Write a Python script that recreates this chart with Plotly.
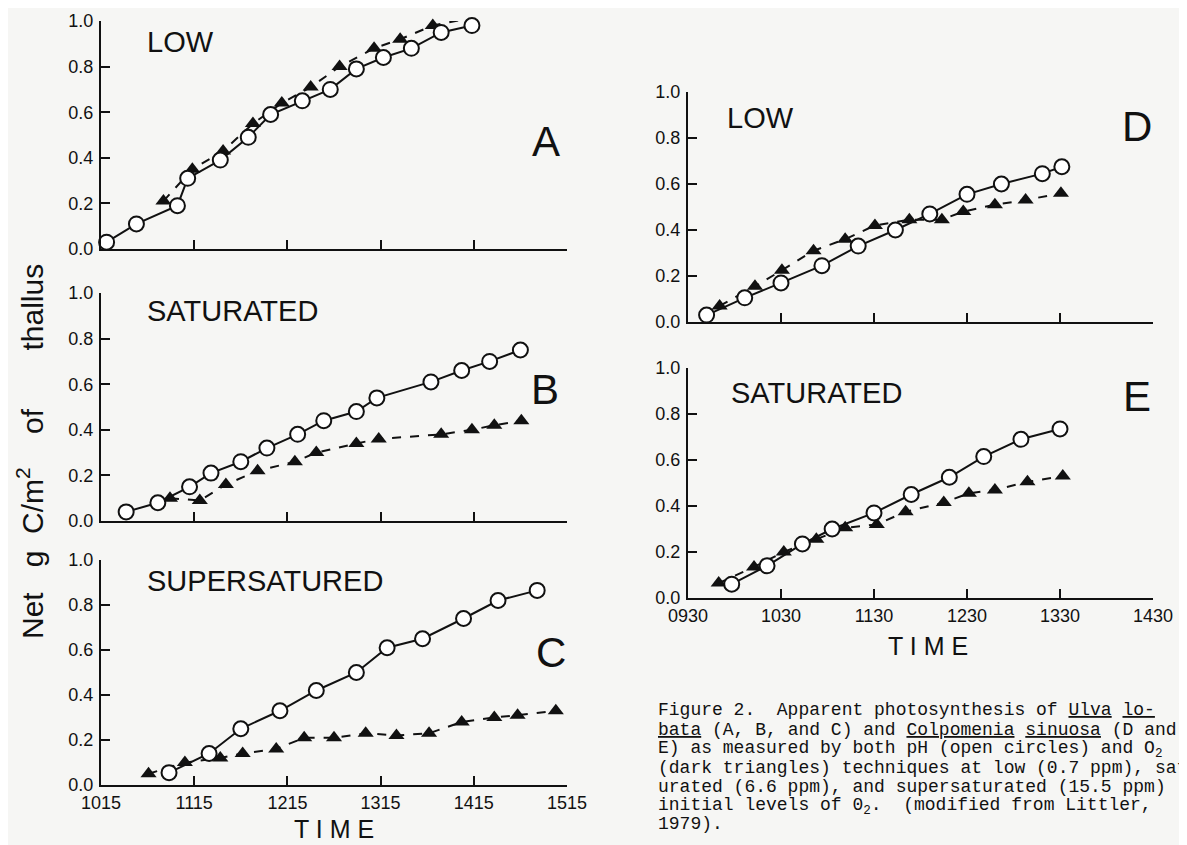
import plotly.graph_objects as go

W, H = 1187, 845
PAGE_OFFSET = 8  # the browser's default body margin shifts the figure by 8 px

# ---------------- data (time in decimal hours, value in g C/m2) ----------------
# Panel A  (Ulva lobata, LOW O2)
a_circ_t = [10.31, 10.63, 11.07, 11.18, 11.53, 11.83, 12.07, 12.41, 12.71, 12.99, 13.28, 13.58, 13.90, 14.23]
a_circ_v = [0.03, 0.11, 0.19, 0.31, 0.39, 0.49, 0.59, 0.65, 0.70, 0.79, 0.84, 0.88, 0.95, 0.98]
a_tri_t = [10.92, 11.23, 11.56, 11.88, 12.19, 12.50, 12.81, 13.18, 13.46, 13.81, 14.18]
a_tri_v = [0.21, 0.35, 0.43, 0.55, 0.64, 0.71, 0.80, 0.88, 0.92, 0.98, 1.01]

# Panel B  (Ulva lobata, SATURATED)
b_circ_t = [10.52, 10.86, 11.20, 11.43, 11.75, 12.03, 12.36, 12.64, 12.99, 13.21, 13.79, 14.12, 14.42, 14.75]
b_circ_v = [0.04, 0.08, 0.15, 0.21, 0.26, 0.32, 0.38, 0.44, 0.48, 0.54, 0.61, 0.66, 0.70, 0.75]
b_tri_t = [10.99, 11.31, 11.59, 11.93, 12.33, 12.56, 12.99, 13.23, 13.90, 14.23, 14.47, 14.76]
b_tri_v = [0.10, 0.09, 0.16, 0.22, 0.26, 0.30, 0.34, 0.36, 0.38, 0.40, 0.42, 0.44]

# Panel C  (Ulva lobata, SUPERSATURED)
c_circ_t = [10.98, 11.41, 11.75, 12.17, 12.56, 12.99, 13.32, 13.70, 14.14, 14.51, 14.93]
c_circ_v = [0.055, 0.14, 0.25, 0.33, 0.42, 0.50, 0.61, 0.65, 0.74, 0.82, 0.865]
c_tri_t = [10.76, 11.15, 11.53, 11.77, 12.13, 12.43, 12.75, 13.09, 13.42, 13.77, 14.12, 14.47, 14.72, 15.13]
c_tri_v = [0.05, 0.10, 0.12, 0.14, 0.16, 0.21, 0.21, 0.23, 0.22, 0.23, 0.28, 0.30, 0.31, 0.33]

# Panel D  (Colpomenia sinuosa, LOW)
d_circ_t = [9.70, 10.11, 10.50, 10.94, 11.33, 11.73, 12.10, 12.50, 12.87, 13.31, 13.52]
d_circ_v = [0.03, 0.105, 0.17, 0.245, 0.33, 0.40, 0.47, 0.555, 0.60, 0.645, 0.675]
d_tri_t = [9.84, 10.22, 10.51, 10.85, 11.19, 11.51, 11.88, 12.23, 12.46, 12.80, 13.13, 13.51]
d_tri_v = [0.07, 0.155, 0.225, 0.31, 0.36, 0.42, 0.445, 0.445, 0.48, 0.51, 0.53, 0.56]

# Panel E  (Colpomenia sinuosa, SATURATED)
e_circ_t = [9.97, 10.35, 10.73, 11.05, 11.50, 11.90, 12.31, 12.68, 13.08, 13.50]
e_circ_v = [0.06, 0.14, 0.235, 0.30, 0.37, 0.45, 0.525, 0.615, 0.69, 0.735]
e_tri_t = [9.83, 10.21, 10.53, 10.88, 11.19, 11.53, 11.84, 12.25, 12.52, 12.80, 13.15, 13.53]
e_tri_v = [0.065, 0.135, 0.20, 0.255, 0.305, 0.32, 0.375, 0.415, 0.455, 0.47, 0.505, 0.53]

left_tick_vals = [10.25, 11.25, 12.25, 13.25, 14.25, 15.25]
left_tick_text = ["1015", "1115", "1215", "1315", "1415", "1515"]
right_tick_vals = [9.5, 10.5, 11.5, 12.5, 13.5, 14.5]
right_tick_text = ["0930", "1030", "1130", "1230", "1330", "1430"]
y_tick_vals = [0.0, 0.2, 0.4, 0.6, 0.8, 1.0]
y_tick_text = ["0.0", "0.2", "0.4", "0.6", "0.8", "1.0"]

panel_letters = ["A", "B", "C", "D", "E"]
panel_titles = ["LOW", "SATURATED", "SUPERSATURED", "LOW", "SATURATED"]

# ---------------- layout helpers (page pixels -> paper fractions) ----------------
def fx(px):
    return (px - PAGE_OFFSET) / W

def fy(py):
    return 1 - (py - PAGE_OFFSET) / H

INK = "#111111"
BG = "#f6f6f4"
SANS = "Liberation Sans, Arial, sans-serif"
MONO = "Liberation Mono, DejaVu Sans Mono, monospace"

# pixel geometry of each panel: (x_left, x_right, y_of_0, y_of_1)
geom = [
    (101, 567, 249, 21),
    (101, 567, 521, 293),
    (101, 567, 785, 560),
    (688, 1153, 322, 92),
    (688, 1153, 598, 368),
]
xranges = [[10.25, 15.25]] * 3 + [[9.5, 14.5]] * 2
show_xlabels = [False, False, True, False, True]

data = [
    (a_circ_t, a_circ_v, a_tri_t, a_tri_v),
    (b_circ_t, b_circ_v, b_tri_t, b_tri_v),
    (c_circ_t, c_circ_v, c_tri_t, c_tri_v),
    (d_circ_t, d_circ_v, d_tri_t, d_tri_v),
    (e_circ_t, e_circ_v, e_tri_t, e_tri_v),
]

fig = go.Figure()
layout = {}
for i, (g, xr, showx, d) in enumerate(zip(geom, xranges, show_xlabels, data)):
    n = "" if i == 0 else str(i + 1)
    xl, xr_px, y0, y1 = g
    left = i < 3
    layout["xaxis" + n] = dict(
        domain=[fx(xl), fx(xr_px)], range=xr, anchor="y" + n,
        showgrid=False, zeroline=False, showline=True, linecolor=INK, linewidth=2,
        ticks="inside", ticklen=9, tickwidth=2, tickcolor=INK,
        tickvals=left_tick_vals if left else right_tick_vals,
        ticktext=left_tick_text if left else right_tick_text,
        showticklabels=showx, ticklabelstandoff=0,
        tickfont=dict(family=SANS, size=18, color=INK),
    )
    layout["yaxis" + n] = dict(
        domain=[fy(y0), fy(y1)], range=[0, 1], anchor="x" + n,
        showgrid=False, zeroline=False, showline=True, linecolor=INK, linewidth=2,
        ticks="inside", ticklen=9, tickwidth=2, tickcolor=INK,
        tickvals=y_tick_vals, ticktext=y_tick_text, ticklabelstandoff=2,
        tickfont=dict(family=SANS, size=18, color=INK),
    )
    ct, cv, tt, tv = d
    fig.add_trace(go.Scatter(
        x=tt, y=tv, xaxis="x" + n, yaxis="y" + n, mode="lines+markers",
        line=dict(color=INK, width=2, dash="dash"),
        marker=dict(symbol="triangle-up", size=14, color=INK),
        cliponaxis=False, showlegend=False, hoverinfo="x+y",
    ))
    fig.add_trace(go.Scatter(
        x=ct, y=cv, xaxis="x" + n, yaxis="y" + n, mode="lines+markers",
        line=dict(color=INK, width=2),
        marker=dict(symbol="circle", size=15, color="white", line=dict(color=INK, width=2)),
        cliponaxis=False, showlegend=False, hoverinfo="x+y",
    ))

annotations = []
# panel titles (left x px, center y px)
title_pos = [(145, 42), (145, 311), (145, 581), (725, 118), (729, 393)]
for t, (px, py) in zip(panel_titles, title_pos):
    annotations.append(dict(text=t, x=fx(px), y=fy(py), xref="paper", yref="paper",
                            xanchor="left", yanchor="middle", showarrow=False,
                            font=dict(family=SANS, size=29, color=INK)))
# panel letters (center)
letter_pos = [(546, 142), (545, 389), (551, 652), (1137, 127), (1137, 396)]
for t, (px, py) in zip(panel_letters, letter_pos):
    annotations.append(dict(text=t, x=fx(px), y=fy(py), xref="paper", yref="paper",
                            xanchor="center", yanchor="middle", showarrow=False,
                            font=dict(family=SANS, size=42, color=INK)))
# axis titles
for (px, py) in [(334, 829), (928, 646)]:
    annotations.append(dict(text="T I M E", x=fx(px), y=fy(py), xref="paper", yref="paper",
                            xanchor="center", yanchor="middle", showarrow=False,
                            font=dict(family=SANS, size=25, color=INK)))
sp = "\u00a0"
ytitle = ("Net" + sp * 3 + "g" + sp * 2 + "C/m<sup>2</sup>" + sp * 4 + "of"
          + sp * 7 + "thallus")
annotations.append(dict(text=ytitle, x=fx(30), y=fy(452), xref="paper", yref="paper",
                        xanchor="center", yanchor="middle", textangle=-90, showarrow=False,
                        font=dict(family=SANS, size=30, color=INK)))

caption = [
    "Figure 2.  Apparent photosynthesis of <u>Ulva</u> <u>lo-</u>",
    "<u>bata</u> (A, B, and C) and <u>Colpomenia</u> <u>sinuosa</u> (D and",
    "E) as measured by both pH (open circles) and O<sub>2</sub>",
    "(dark triangles) techniques at low (0.7 ppm), sat-",
    "urated (6.6 ppm), and supersaturated (15.5 ppm)",
    "initial levels of 0<sub>2</sub>.  (modified from Littler,",
    "1979).",
]
cap_y = [710, 730, 749, 768, 787, 806, 824]
for line, py in zip(caption, cap_y):
    annotations.append(dict(text=line, x=fx(656), y=fy(py), xref="paper", yref="paper",
                            xanchor="left", yanchor="middle", showarrow=False,
                            font=dict(family=MONO, size=18, color=INK)))

fig.update_layout(
    width=W, height=H, margin=dict(l=0, r=0, t=0, b=0, pad=0, autoexpand=False),
    paper_bgcolor=BG, plot_bgcolor="rgba(0,0,0,0)",
    annotations=annotations, showlegend=False,
    **layout,
)

fig.write_html("out.html", config={"displayModeBar": False})
